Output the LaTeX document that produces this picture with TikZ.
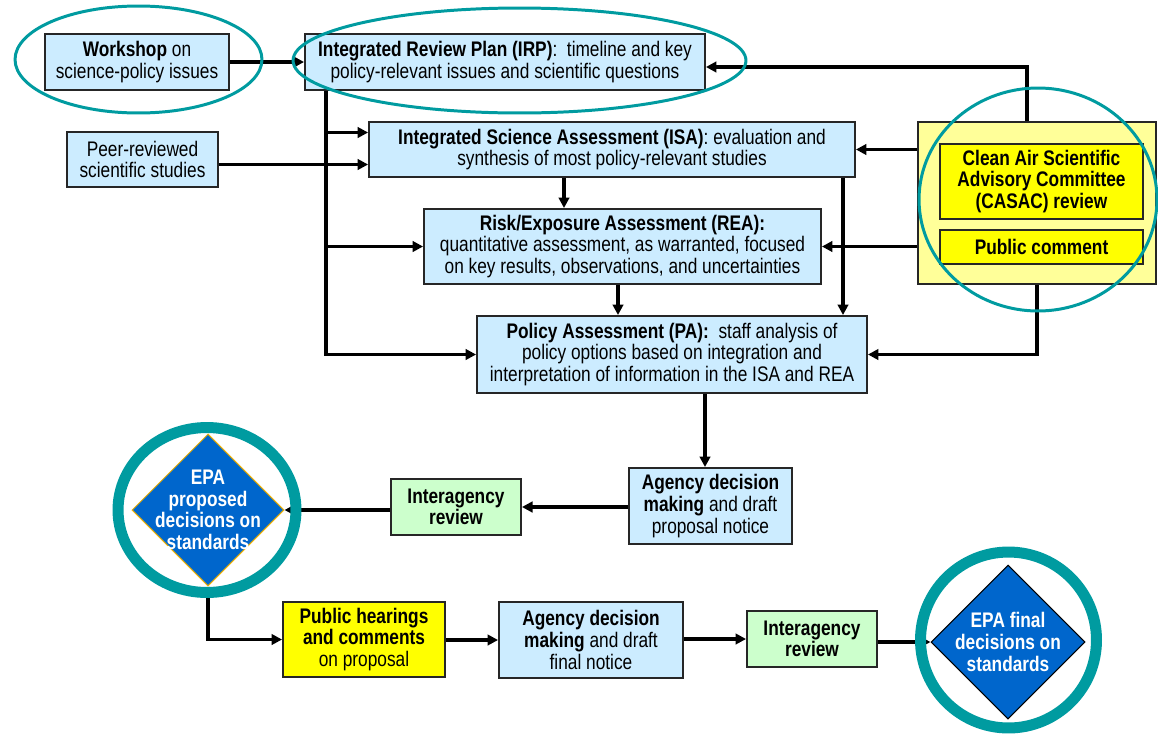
\documentclass[tikz,border=0pt]{standalone}
\usepackage{fontspec}
\setmainfont{Liberation Sans}[FakeStretch=0.82]
\usepackage{tikz}
\usetikzlibrary{arrows.meta,shapes.geometric,calc}

\definecolor{boxblue}{HTML}{CCECFF}
\definecolor{boxgreen}{HTML}{CCFFCC}
\definecolor{boxyellow}{HTML}{FFFF00}
\definecolor{paleyellow}{HTML}{FFFF99}
\definecolor{ringteal}{HTML}{009BA0}
\definecolor{decblue}{HTML}{0066CC}
\definecolor{decedge}{HTML}{F0B000}

\tikzset{
	flow/.style={line width=1.8pt,-{Triangle[length=6pt,width=6pt]}},
	box/.style={draw=black!85,line width=1.1pt,align=center,inner sep=1pt,
		font=\fontsize{12}{12.3}\selectfont},
	bluebox/.style={box,fill=boxblue},
	greenbox/.style={box,fill=boxgreen,minimum width=2.6cm,minimum height=1.12cm},
	yellowbox/.style={box,fill=boxyellow},
	decision/.style={diamond,aspect=1,inner sep=0pt,fill=decblue,line width=0.6pt},
	dectext/.style={align=center,text=white,font=\fontsize{12}{12.3}\selectfont\bfseries},
	halo/.style={draw=ringteal,line width=1.7pt},
	ring/.style={draw=ringteal,line width=0.22cm}
}

\begin{document}
\begin{tikzpicture}[x=0.02cm,y=-0.02cm]
	\useasboundingbox (0,0) rectangle (1158,734);

	\node[bluebox,minimum width=3.68cm,minimum height=1.12cm] (ws) at (137,62) {\textbf{Workshop} on\\science-policy issues};
	\node[bluebox,minimum width=8cm,minimum height=1.12cm] (irp) at (505,62) {\textbf{Integrated Review Plan (IRP)}:\ \ timeline and key\\policy-relevant issues and scientific questions};
	\node[bluebox,minimum width=3.02cm,minimum height=1.1cm] (peer) at (142.5,159.5) {Peer-reviewed\\scientific studies};
	\node[bluebox,minimum width=9.72cm,minimum height=1.1cm] (isa) at (612,149.5) {\textbf{Integrated Science Assessment (ISA)}: evaluation and\\synthesis of most policy-relevant studies};
	\node[bluebox,minimum width=7.94cm,minimum height=1.5cm] (rea) at (622.5,246.5) {\textbf{Risk/Exposure Assessment (REA):}\\quantitative assessment, as warranted, focused\\on key results, observations, and uncertainties};
	\node[bluebox,minimum width=7.8cm,minimum height=1.54cm] (pa) at (672,354.5) {\textbf{Policy Assessment (PA):}\ \ staff analysis of\\policy options based on integration and\\interpretation of information in the ISA and REA};

	\node[box,fill=paleyellow,minimum width=4.76cm,minimum height=3.24cm] (cas) at (1037,203) {};
	\node[yellowbox,minimum width=4.06cm,minimum height=1.5cm] (casac) at (1041.5,181.5) {\textbf{Clean Air Scientific}\\\textbf{Advisory Committee}\\\textbf{(CASAC) review}};
	\node[yellowbox,minimum width=4.06cm,minimum height=0.68cm] (pub) at (1041.5,247) {\textbf{Public comment}};

	\node[bluebox,minimum width=3.26cm,minimum height=1.52cm] (ad1) at (710.5,506) {\textbf{Agency decision}\\\textbf{making} and draft\\proposal notice};
	\node[greenbox] (ia1) at (456,507) {\textbf{Interagency}\\\textbf{review}};
	\node[decision,draw=decedge,minimum size=3.04cm] (d1) at (208,510) {};
	\node[dectext] (d1t) at (d1) {EPA\\proposed\\decisions on\\standards};

	\node[yellowbox,minimum width=3.24cm,minimum height=1.5cm] (hear) at (364,639.5) {\textbf{Public hearings}\\\textbf{and comments}\\on proposal};
	\node[bluebox,minimum width=3.68cm,minimum height=1.52cm] (ad2) at (591,640) {\textbf{Agency decision}\\\textbf{making} and draft\\final notice};
	\node[greenbox] (ia2) at (812,639) {\textbf{Interagency}\\\textbf{review}};
	\node[decision,draw=black,minimum size=3.08cm] (d2) at (1008,642) {};
	\node[dectext] (d2t) at (d2) {EPA final\\decisions on\\standards};

	\coordinate (tr) at (326,0);
	\coordinate (fb) at (1027,67);
	\coordinate (isaA) at ($(isa.west)+(0,-17)$);
	\coordinate (isaB) at ($(isa.west)+(0,15)$);

	\draw[flow] (ws.east) -- (ws.east -| irp.west);
	\draw[flow] (cas.north -| fb) -- (fb) -- (fb -| irp.east);
	\draw[flow] (irp.south -| tr) |- (pa.west);
	\draw[flow] (tr |- isaA) -- (isaA);
	\draw[flow] (peer.east |- isaB) -- (isaB);
	\draw[flow] (tr |- rea.west) -- (rea.west);
	\draw[flow] (isa.south -| 564,0) -- (rea.north -| 564,0);
	\draw[flow] (rea.south -| 618,0) -- (pa.north -| 618,0);
	\draw[flow] (isa.south -| 843,0) -- (pa.north -| 843,0);
	\draw[flow] (cas.west |- isa.east) -- (isa.east);
	\draw[flow] (cas.west |- rea.east) -- (rea.east);
	\draw[flow] (cas.south) |- (pa.east);
	\draw[flow] (pa.south -| 705,0) -- (ad1.north -| 705,0);
	\draw[flow] (ad1.west |- ia1.east) -- (ia1.east);
	\draw[flow] (ia1.west |- d1.east) -- (d1.east);
	\draw[flow] (d1.south) |- (hear.west);
	\draw[flow] (hear.east |- ad2.west) -- (ad2.west);
	\draw[flow] (ad2.east |- ia2.west) -- (ia2.west);
	\draw[flow] (ia2.east |- d2.west) -- (d2.west);

	\draw[ring] (207,510) ellipse [x radius=1.78cm, y radius=1.65cm];
	\draw[ring] (1008.5,640) ellipse [x radius=1.76cm, y radius=1.76cm];

	\draw[halo] (138.5,59.5) ellipse [x radius=2.47cm, y radius=1.07cm];
	\draw[halo] (519.5,60.5) ellipse [x radius=4.53cm, y radius=1.05cm];
	\draw[halo] (1038,199.5) ellipse [x radius=2.38cm, y radius=2.23cm];
\end{tikzpicture}
\end{document}
